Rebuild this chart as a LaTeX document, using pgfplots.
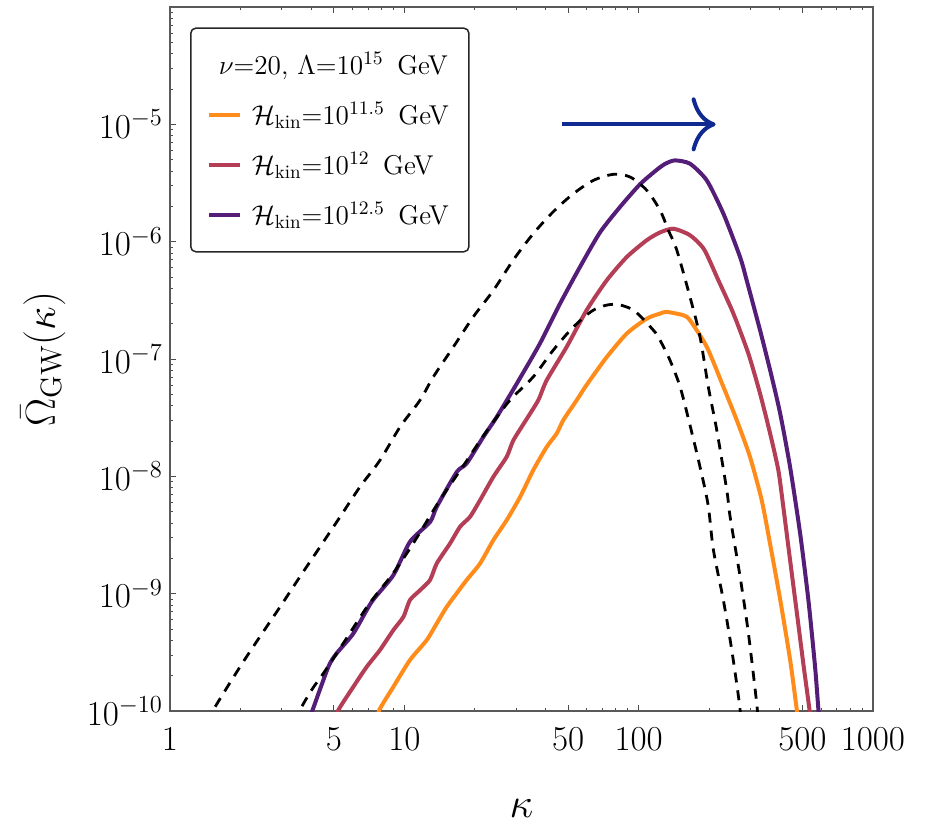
\RequirePackage{fix-cm}
\documentclass[border=0pt]{standalone}
\usepackage{fontspec}
\usepackage{pgfplots}
\pgfplotsset{compat=1.18}
\usetikzlibrary{arrows.meta}
\definecolor{corange}{RGB}{255,140,26}
\definecolor{cred}{RGB}{180,62,86}
\definecolor{cpurple}{RGB}{84,30,120}
\definecolor{cnavy}{RGB}{16,42,146}
\begin{document}
\begin{tikzpicture}
\begin{loglogaxis}[
  name=ax,
  scale only axis, width=351.5pt, height=352pt,
  xmin=1, xmax=1000, ymin=1e-10, ymax=1e-4,
  xtick={1,5,10,50,100,500,1000},
  xticklabels={$1$,$5$,$10$,$50$,$100$,$500$,$1000$},
  minor xtick={2,3,4,6,7,8,9,20,30,40,60,70,80,90,200,300,400,600,700,800,900},
  ytick={1e-10,1e-9,1e-8,1e-7,1e-6,1e-5},
  minor ytick={2e-10,3e-10,4e-10,5e-10,6e-10,7e-10,8e-10,9e-10,
               2e-9,3e-9,4e-9,5e-9,6e-9,7e-9,8e-9,9e-9,
               2e-8,3e-8,4e-8,5e-8,6e-8,7e-8,8e-8,9e-8,
               2e-7,3e-7,4e-7,5e-7,6e-7,7e-7,8e-7,9e-7,
               2e-6,3e-6,4e-6,5e-6,6e-6,7e-6,8e-6,9e-6,
               2e-5,3e-5,4e-5,5e-5,6e-5,7e-5,8e-5,9e-5},
  xtick pos=both, ytick pos=left,
  tick align=inside,
  major tick length=3pt, minor tick length=1.7pt,
  axis line style={black!65, line width=0.6pt},
  every tick/.style={black!70, line width=0.5pt},
  tick label style={font=\fontsize{17.5}{20}\selectfont},
  xticklabel style={yshift=-5pt},
  xlabel={$\kappa$},
  ylabel={$\bar{\Omega}_{\rm GW}(\kappa)$},
  every axis x label/.style={at={(rel axis cs:0.5,0)}, yshift=-48.5pt, anchor=center, inner sep=0pt, font=\fontsize{21}{24}\selectfont},
  every axis y label/.style={at={(rel axis cs:0,0.5)}, xshift=-63.5pt, rotate=90, anchor=center, font=\fontsize{21}{24}\selectfont},
  legend style={at={(0.0285,0.971)}, anchor=north west,
    draw=black!85, line width=0.75pt, rounded corners=2.5pt,
    font=\fontsize{13.6}{16}\selectfont,
    inner xsep=8pt, inner ysep=10pt, row sep=8.5pt, column sep=3pt},
  legend cell align=left,
  legend image code/.code={\draw[#1] (0pt,0pt) -- (15.5pt,0pt);},
  clip=true,
]
\addlegendimage{empty legend}
\addlegendentry{\hspace*{-16.5pt}$\nu$=20, $\Lambda$=$10^{15}$\enspace GeV}

% orange: H_kin = 10^11.5
\addplot[corange, line width=2pt, smooth, tension=0.4] coordinates {
(7.6,7.9e-11) (7.82,1.02e-10) (8.98,1.61e-10) (10.57,2.72e-10) (12.47,4.03e-10)
(13.75,5.58e-10) (15.17,7.73e-10) (16.74,1.01e-9) (18.46,1.31e-9) (21.05,1.81e-9)
(23.98,2.86e-9) (27.35,4.24e-9) (31.2,6.68e-9) (35.5,1.13e-8) (40.5,1.78e-8)
(44.7,2.32e-8) (47.7,3.02e-8) (54.4,4.46e-8) (60.0,6.03e-8) (73.1,1.04e-7)
(89.0,1.65e-7) (108.3,2.21e-7) (123.4,2.44e-7) (131.8,2.52e-7) (155.2,2.36e-7)
(165.6,2.14e-7) (195.3,1.27e-7) (230,5.78e-8) (262.2,3.01e-8) (298.5,1.47e-8)
(335,6.27e-9) (364,2.64e-9) (402,8.83e-10) (443,2.72e-10) (473,1.02e-10) (480,7.6e-11)
};
\addlegendentry{$\mathcal{H}_{\rm kin}$=$10^{11.5}$\enspace GeV}

% red: H_kin = 10^12
\addplot[cred, line width=2pt, smooth, tension=0.4] coordinates {
(5.1,8.3e-11) (5.23,1.02e-10) (6.06,1.61e-10) (6.91,2.38e-10) (7.87,3.31e-10)
(8.98,4.90e-10) (9.91,6.35e-10) (10.57,8.83e-10) (11.67,1.07e-9) (12.88,1.31e-9)
(13.75,1.81e-9) (15.67,2.68e-9) (17.29,3.72e-9) (19.07,4.52e-9) (21.05,6.27e-9)
(23.98,9.91e-9) (27.35,1.47e-8) (29.2,2.03e-8) (33.3,3.09e-8) (37.3,4.46e-8)
(40.5,6.59e-8) (49.3,1.27e-7) (60.0,2.61e-7) (73.1,4.69e-7) (89.0,7.41e-7)
(108.3,1.03e-6) (123.4,1.20e-6) (140.7,1.29e-6) (165.6,1.135e-6) (190.1,8.61e-7)
(218.8,4.69e-7) (253.7,2.44e-7) (294,1.11e-7) (329.6,5.08e-8) (363.9,2.32e-8)
(394.5,1.13e-8) (413.3,5.69e-9) (442.8,1.93e-9) (474.5,6.58e-10) (505.8,2.42e-10)
(536,1.02e-10) (555,5.6e-11)
};
\addlegendentry{$\mathcal{H}_{\rm kin}$=$10^{12}$\enspace GeV}

% purple: H_kin = 10^12.5
\addplot[cpurple, line width=2pt, smooth, tension=0.4] coordinates {
(3.9,8.1e-11) (4.06,1.02e-10) (4.74,2.38e-10) (5.14,3.10e-10) (6.06,4.58e-10)
(7.26,8.53e-10) (8.98,1.44e-9) (10.57,2.77e-9) (12.88,4.09e-9) (13.75,5.50e-9)
(16.74,1.09e-8) (18.46,1.29e-8) (21.74,2.17e-8) (24.8,3.21e-8) (30.2,6.18e-8)
(37.9,1.355e-7) (46.2,2.97e-7) (56.2,6.10e-7) (68.4,1.20e-6) (83.3,1.98e-6)
(101.4,3.09e-6) (119.5,4.1e-6) (130,4.62e-6) (142.9,4.93e-6) (165.6,4.62e-6) (195.3,3.33e-6)
(230,1.73e-6) (271,7.38e-7) (289,4.69e-7) (329.6,1.76e-7) (363.9,8.04e-8)
(401.6,3.44e-8) (442.8,1.20e-8) (488.6,3.27e-9) (530,8.83e-10) (566,2.38e-10)
(585,1.02e-10) (594.6,6.9e-11)
};
\addlegendentry{$\mathcal{H}_{\rm kin}$=$10^{12.5}$\enspace GeV}

% dashed upper
\addplot[black, line width=1.4pt, dash pattern=on 5pt off 4pt, smooth, forget plot] coordinates {
(1.45,7.9e-11) (1.53,1.02e-10) (1.99,2.38e-10) (2.42,4.30e-10) (2.95,7.73e-10)
(3.59,1.40e-9) (4.37,2.51e-9) (5.32,4.52e-9) (6.47,8.15e-9) (7.87,1.37e-8)
(9.59,2.64e-8) (11.67,4.46e-8) (13.3,7.05e-8) (16.2,1.27e-7) (19.7,2.29e-7)
(24.0,3.85e-7) (29.2,7.0e-7) (35.5,1.17e-6) (43.2,1.80e-6) (52.6,2.56e-6)
(64.1,3.33e-6) (78.0,3.75e-6) (91.9,3.56e-6) (108.3,2.74e-6) (123.4,1.85e-6)
(133.9,1.25e-6) (145.5,8.45e-7) (165.6,3.38e-7) (182.8,1.54e-7) (198.3,5.78e-8)
(215.4,2.48e-8) (237.7,7.62e-9) (245.6,4.52e-9) (271,1.39e-9) (294,4.59e-10)
(319,1.16e-10) (324,7.9e-11)
};

% dashed lower
\addplot[black, line width=1.4pt, dash pattern=on 5pt off 4pt, smooth, forget plot] coordinates {
(3.45,7.9e-11) (3.59,1.02e-10) (4.02,1.51e-10) (4.51,2.09e-10) (5.5,3.80e-10)
(7.0,7.94e-10) (9.0,1.51e-9) (11.0,2.75e-9) (14.0,6.03e-9) (18.0,1.26e-8)
(22.0,2.29e-8) (28.0,4.37e-8) (35.5,7.05e-8) (43.2,1.19e-7) (52.6,1.87e-7)
(64.1,2.61e-7) (78.0,2.93e-7) (94.9,2.61e-7) (115.6,1.76e-7) (123.4,1.445e-7)
(136,9.77e-8) (150.3,5.78e-8) (165.6,2.73e-8) (182.8,1.20e-8) (197.9,5.69e-9)
(208.5,2.35e-9) (229.8,8.83e-10) (249.6,3.31e-10) (269,1.16e-10) (273,7.9e-11)
};

% arrow
\addplot[cnavy, line width=2pt, -{Computer Modern Rightarrow[length=12pt,width=27pt,line width=2pt]}, forget plot] coordinates {
(47,1e-5) (213,1e-5)
};
\end{loglogaxis}
\pgfresetboundingbox
\path[use as bounding box] ([shift={(-85pt,-58pt)}]ax.south west) rectangle ([shift={(378pt,355.5pt)}]ax.south west);
\end{tikzpicture}
\end{document}
